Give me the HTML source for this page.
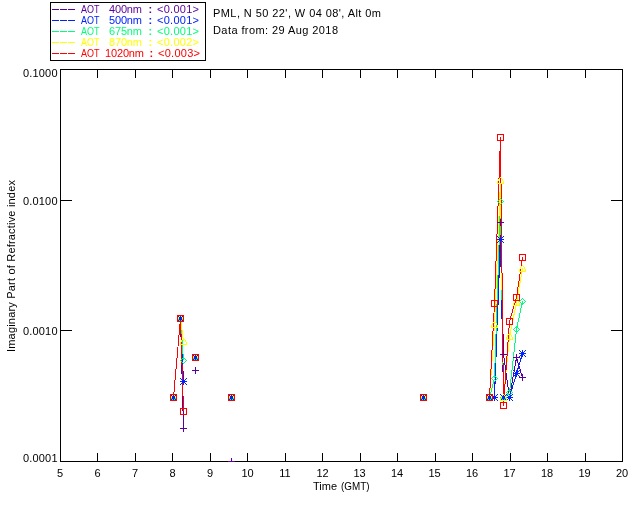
<!DOCTYPE html>
<html><head><meta charset="utf-8"><style>
html,body{margin:0;padding:0;background:#fff;width:640px;height:512px;overflow:hidden}
svg{display:block;font-family:"Liberation Sans", sans-serif;will-change:transform}
</style></head><body>
<svg width="640" height="512" viewBox="0 0 640 512" shape-rendering="crispEdges" stroke-linejoin="bevel">
<defs><clipPath id="pc"><rect x="60" y="69" width="563" height="393"/></clipPath></defs>
<rect x="50" y="2" width="156" height="1" fill="#000"/>
<rect x="50" y="60" width="156" height="1" fill="#000"/>
<rect x="50" y="2" width="1" height="59" fill="#000"/>
<rect x="205" y="2" width="1" height="59" fill="#000"/>
<rect x="52" y="9" width="7" height="1" fill="#58009c"/>
<rect x="60" y="9" width="7" height="1" fill="#58009c"/>
<rect x="68" y="9" width="7" height="1" fill="#58009c"/>
<text x="81" y="13" fill="#58009c" font-size="11" text-anchor="start" textLength="18.5" lengthAdjust="spacingAndGlyphs">AOT</text>
<text x="109" y="13" fill="#58009c" font-size="11" text-anchor="start" textLength="33" lengthAdjust="spacing">400nm</text>
<text x="148.5" y="13" fill="#58009c" font-size="11" text-anchor="start" font-weight="bold">:</text>
<text x="157" y="13" fill="#58009c" font-size="11" text-anchor="start" textLength="42" lengthAdjust="spacing">&lt;0.001&gt;</text>
<rect x="52" y="20" width="7" height="1" fill="#0022ff"/>
<rect x="60" y="20" width="7" height="1" fill="#0022ff"/>
<rect x="68" y="20" width="7" height="1" fill="#0022ff"/>
<text x="81" y="24" fill="#0022ff" font-size="11" text-anchor="start" textLength="18.5" lengthAdjust="spacingAndGlyphs">AOT</text>
<text x="109" y="24" fill="#0022ff" font-size="11" text-anchor="start" textLength="33" lengthAdjust="spacing">500nm</text>
<text x="148.5" y="24" fill="#0022ff" font-size="11" text-anchor="start" font-weight="bold">:</text>
<text x="157" y="24" fill="#0022ff" font-size="11" text-anchor="start" textLength="42" lengthAdjust="spacing">&lt;0.001&gt;</text>
<rect x="52" y="31" width="7" height="1" fill="#00ff7a"/>
<rect x="60" y="31" width="7" height="1" fill="#00ff7a"/>
<rect x="68" y="31" width="7" height="1" fill="#00ff7a"/>
<text x="81" y="35" fill="#00ff7a" font-size="11" text-anchor="start" textLength="18.5" lengthAdjust="spacingAndGlyphs">AOT</text>
<text x="109" y="35" fill="#00ff7a" font-size="11" text-anchor="start" textLength="33" lengthAdjust="spacing">675nm</text>
<text x="148.5" y="35" fill="#00ff7a" font-size="11" text-anchor="start" font-weight="bold">:</text>
<text x="157" y="35" fill="#00ff7a" font-size="11" text-anchor="start" textLength="42" lengthAdjust="spacing">&lt;0.001&gt;</text>
<rect x="52" y="42" width="7" height="1" fill="#ffff00"/>
<rect x="60" y="42" width="7" height="1" fill="#ffff00"/>
<rect x="68" y="42" width="7" height="1" fill="#ffff00"/>
<text x="81" y="46" fill="#ffff00" font-size="11" text-anchor="start" textLength="18.5" lengthAdjust="spacingAndGlyphs">AOT</text>
<text x="109" y="46" fill="#ffff00" font-size="11" text-anchor="start" textLength="33" lengthAdjust="spacing">870nm</text>
<text x="148.5" y="46" fill="#ffff00" font-size="11" text-anchor="start" font-weight="bold">:</text>
<text x="157" y="46" fill="#ffff00" font-size="11" text-anchor="start" textLength="42" lengthAdjust="spacing">&lt;0.002&gt;</text>
<rect x="52" y="53" width="7" height="1" fill="#ff0000"/>
<rect x="60" y="53" width="7" height="1" fill="#ff0000"/>
<rect x="68" y="53" width="7" height="1" fill="#ff0000"/>
<text x="81" y="57" fill="#ff0000" font-size="11" text-anchor="start" textLength="18.5" lengthAdjust="spacingAndGlyphs">AOT</text>
<text x="105" y="57" fill="#ff0000" font-size="11" text-anchor="start" textLength="39" lengthAdjust="spacing">1020nm</text>
<text x="149.5" y="57" fill="#ff0000" font-size="11" text-anchor="start" font-weight="bold">:</text>
<text x="158" y="57" fill="#ff0000" font-size="11" text-anchor="start" textLength="42" lengthAdjust="spacing">&lt;0.003&gt;</text>
<text x="213" y="17" fill="#000" font-size="11" text-anchor="start" textLength="168" lengthAdjust="spacing">PML, N 50 22', W 04 08', Alt 0m</text>
<text x="213" y="34" fill="#000" font-size="11" text-anchor="start" textLength="125" lengthAdjust="spacing">Data from: 29 Aug 2018</text>
<rect x="60" y="69" width="563" height="1" fill="#000"/>
<rect x="60" y="461" width="563" height="1" fill="#000"/>
<rect x="60" y="69" width="1" height="393" fill="#000"/>
<rect x="622" y="69" width="1" height="393" fill="#000"/>
<rect x="97" y="453" width="1" height="9" fill="#000"/>
<rect x="97" y="69" width="1" height="9" fill="#000"/>
<rect x="135" y="453" width="1" height="9" fill="#000"/>
<rect x="135" y="69" width="1" height="9" fill="#000"/>
<rect x="172" y="453" width="1" height="9" fill="#000"/>
<rect x="172" y="69" width="1" height="9" fill="#000"/>
<rect x="210" y="453" width="1" height="9" fill="#000"/>
<rect x="210" y="69" width="1" height="9" fill="#000"/>
<rect x="247" y="453" width="1" height="9" fill="#000"/>
<rect x="247" y="69" width="1" height="9" fill="#000"/>
<rect x="285" y="453" width="1" height="9" fill="#000"/>
<rect x="285" y="69" width="1" height="9" fill="#000"/>
<rect x="322" y="453" width="1" height="9" fill="#000"/>
<rect x="322" y="69" width="1" height="9" fill="#000"/>
<rect x="360" y="453" width="1" height="9" fill="#000"/>
<rect x="360" y="69" width="1" height="9" fill="#000"/>
<rect x="397" y="453" width="1" height="9" fill="#000"/>
<rect x="397" y="69" width="1" height="9" fill="#000"/>
<rect x="435" y="453" width="1" height="9" fill="#000"/>
<rect x="435" y="69" width="1" height="9" fill="#000"/>
<rect x="472" y="453" width="1" height="9" fill="#000"/>
<rect x="472" y="69" width="1" height="9" fill="#000"/>
<rect x="510" y="453" width="1" height="9" fill="#000"/>
<rect x="510" y="69" width="1" height="9" fill="#000"/>
<rect x="547" y="453" width="1" height="9" fill="#000"/>
<rect x="547" y="69" width="1" height="9" fill="#000"/>
<rect x="585" y="453" width="1" height="9" fill="#000"/>
<rect x="585" y="69" width="1" height="9" fill="#000"/>
<rect x="60" y="200" width="12" height="1" fill="#000"/>
<rect x="611" y="200" width="12" height="1" fill="#000"/>
<rect x="60" y="330" width="12" height="1" fill="#000"/>
<rect x="611" y="330" width="12" height="1" fill="#000"/>
<text x="60.0" y="477" fill="#000" font-size="11" text-anchor="middle">5</text>
<text x="97.5" y="477" fill="#000" font-size="11" text-anchor="middle">6</text>
<text x="135.0" y="477" fill="#000" font-size="11" text-anchor="middle">7</text>
<text x="172.5" y="477" fill="#000" font-size="11" text-anchor="middle">8</text>
<text x="210.0" y="477" fill="#000" font-size="11" text-anchor="middle">9</text>
<text x="247.5" y="477" fill="#000" font-size="11" text-anchor="middle">10</text>
<text x="285.0" y="477" fill="#000" font-size="11" text-anchor="middle">11</text>
<text x="322.5" y="477" fill="#000" font-size="11" text-anchor="middle">12</text>
<text x="359.5" y="477" fill="#000" font-size="11" text-anchor="middle">13</text>
<text x="397.0" y="477" fill="#000" font-size="11" text-anchor="middle">14</text>
<text x="434.5" y="477" fill="#000" font-size="11" text-anchor="middle">15</text>
<text x="472.0" y="477" fill="#000" font-size="11" text-anchor="middle">16</text>
<text x="509.5" y="477" fill="#000" font-size="11" text-anchor="middle">17</text>
<text x="547.0" y="477" fill="#000" font-size="11" text-anchor="middle">18</text>
<text x="584.5" y="477" fill="#000" font-size="11" text-anchor="middle">19</text>
<text x="622.0" y="477" fill="#000" font-size="11" text-anchor="middle">20</text>
<text x="57.5" y="77" fill="#000" font-size="11" text-anchor="end" textLength="34.5" lengthAdjust="spacing">0.1000</text>
<text x="57.5" y="205" fill="#000" font-size="11" text-anchor="end" textLength="34.5" lengthAdjust="spacing">0.0100</text>
<text x="57.5" y="335" fill="#000" font-size="11" text-anchor="end" textLength="34.5" lengthAdjust="spacing">0.0010</text>
<text x="57.5" y="462" fill="#000" font-size="11" text-anchor="end" textLength="34.5" lengthAdjust="spacing">0.0001</text>
<text x="313" y="490" fill="#000" font-size="11" text-anchor="start" textLength="24" lengthAdjust="spacing">Time</text>
<text x="341" y="490" fill="#000" font-size="11" text-anchor="start" textLength="28.5" lengthAdjust="spacingAndGlyphs">(GMT)</text>
<g transform="translate(15,352) rotate(-90)">
<text x="0" y="0" fill="#000" font-size="11" text-anchor="start" textLength="172" lengthAdjust="spacing">Imaginary Part of Refractive index</text>
</g>
<g clip-path="url(#pc)">
<path d="M173.5 397.5 L180.5 318.5 L183.5 428.5" stroke="#58009c" fill="none"/>
<path d="M489.5 397.5 L494.5 397.5 L500.5 222.5 L503.5 354.5 L509.5 397.5 L516.5 357.5 L522.5 377.5" stroke="#58009c" fill="none"/>
<path d="M173.5 397.5 L180.5 318.5 L183.5 381.5" stroke="#0022ff" fill="none"/>
<path d="M489.5 397.5 L494.5 397.5 L500.5 239.5 L503.5 397.5 L509.5 397.5 L516.5 373.5 L522.5 353.5" stroke="#0022ff" fill="none"/>
<path d="M173.5 397.5 L180.5 318.5 L183.5 360.5" stroke="#00ff7a" fill="none"/>
<path d="M489.5 397.5 L494.5 378.5 L500.5 201.5 L503.5 397.5 L509.5 392.5 L516.5 329.5 L522.5 301.5" stroke="#00ff7a" fill="none"/>
<path d="M173.5 397.5 L180.5 318.5 L183.5 341.5" stroke="#ffff00" fill="none"/>
<path d="M489.5 397.5 L494.5 324.5 L500.5 180.5 L503.5 397.5 L509.5 336.5 L516.5 302.5 L522.5 268.5" stroke="#ffff00" fill="none"/>
<path d="M173.5 397.5 L180.5 318.5 L183.5 411.5" stroke="#ff0000" fill="none"/>
<path d="M489.5 397.5 L494.5 303.5 L500.5 137.5 L503.5 405.5 L509.5 321.5 L516.5 297.5 L522.5 257.5" stroke="#ff0000" fill="none"/>
<path d="M170 397h1v1h-1zM171 397h1v1h-1zM172 397h1v1h-1zM173 394h1v1h-1zM173 395h1v1h-1zM173 396h1v1h-1zM173 397h1v1h-1zM173 398h1v1h-1zM173 399h1v1h-1zM173 400h1v1h-1zM174 397h1v1h-1zM175 397h1v1h-1zM176 397h1v1h-1zM177 318h1v1h-1zM178 318h1v1h-1zM179 318h1v1h-1zM180 315h1v1h-1zM180 316h1v1h-1zM180 317h1v1h-1zM180 318h1v1h-1zM180 319h1v1h-1zM180 320h1v1h-1zM180 321h1v1h-1zM180 428h1v1h-1zM181 318h1v1h-1zM181 428h1v1h-1zM182 318h1v1h-1zM182 428h1v1h-1zM183 318h1v1h-1zM183 425h1v1h-1zM183 426h1v1h-1zM183 427h1v1h-1zM183 428h1v1h-1zM183 429h1v1h-1zM183 430h1v1h-1zM183 431h1v1h-1zM184 428h1v1h-1zM185 428h1v1h-1zM186 428h1v1h-1zM192 370h1v1h-1zM193 370h1v1h-1zM194 370h1v1h-1zM195 367h1v1h-1zM195 368h1v1h-1zM195 369h1v1h-1zM195 370h1v1h-1zM195 371h1v1h-1zM195 372h1v1h-1zM195 373h1v1h-1zM196 370h1v1h-1zM197 370h1v1h-1zM198 370h1v1h-1zM228 461h1v1h-1zM229 461h1v1h-1zM230 461h1v1h-1zM231 458h1v1h-1zM231 459h1v1h-1zM231 460h1v1h-1zM231 461h1v1h-1zM232 461h1v1h-1zM233 461h1v1h-1zM234 461h1v1h-1zM420 397h1v1h-1zM421 397h1v1h-1zM422 397h1v1h-1zM423 394h1v1h-1zM423 395h1v1h-1zM423 396h1v1h-1zM423 397h1v1h-1zM423 398h1v1h-1zM423 399h1v1h-1zM423 400h1v1h-1zM424 397h1v1h-1zM425 397h1v1h-1zM426 397h1v1h-1zM486 397h1v1h-1zM487 397h1v1h-1zM488 397h1v1h-1zM489 394h1v1h-1zM489 395h1v1h-1zM489 396h1v1h-1zM489 397h1v1h-1zM489 398h1v1h-1zM489 399h1v1h-1zM489 400h1v1h-1zM490 397h1v1h-1zM491 397h1v1h-1zM492 397h1v1h-1zM493 397h1v1h-1zM494 394h1v1h-1zM494 395h1v1h-1zM494 396h1v1h-1zM494 397h1v1h-1zM494 398h1v1h-1zM494 399h1v1h-1zM494 400h1v1h-1zM495 397h1v1h-1zM496 397h1v1h-1zM497 222h1v1h-1zM497 397h1v1h-1zM498 222h1v1h-1zM499 222h1v1h-1zM500 219h1v1h-1zM500 220h1v1h-1zM500 221h1v1h-1zM500 222h1v1h-1zM500 223h1v1h-1zM500 224h1v1h-1zM500 225h1v1h-1zM500 354h1v1h-1zM501 222h1v1h-1zM501 354h1v1h-1zM502 222h1v1h-1zM502 354h1v1h-1zM503 222h1v1h-1zM503 351h1v1h-1zM503 352h1v1h-1zM503 353h1v1h-1zM503 354h1v1h-1zM503 355h1v1h-1zM503 356h1v1h-1zM503 357h1v1h-1zM504 354h1v1h-1zM505 354h1v1h-1zM506 354h1v1h-1zM506 397h1v1h-1zM507 397h1v1h-1zM508 397h1v1h-1zM509 394h1v1h-1zM509 395h1v1h-1zM509 396h1v1h-1zM509 397h1v1h-1zM509 398h1v1h-1zM509 399h1v1h-1zM509 400h1v1h-1zM510 397h1v1h-1zM511 397h1v1h-1zM512 397h1v1h-1zM513 357h1v1h-1zM514 357h1v1h-1zM515 357h1v1h-1zM516 354h1v1h-1zM516 355h1v1h-1zM516 356h1v1h-1zM516 357h1v1h-1zM516 358h1v1h-1zM516 359h1v1h-1zM516 360h1v1h-1zM517 357h1v1h-1zM518 357h1v1h-1zM519 357h1v1h-1zM519 377h1v1h-1zM520 377h1v1h-1zM521 377h1v1h-1zM522 374h1v1h-1zM522 375h1v1h-1zM522 376h1v1h-1zM522 377h1v1h-1zM522 378h1v1h-1zM522 379h1v1h-1zM522 380h1v1h-1zM523 377h1v1h-1zM524 377h1v1h-1zM525 377h1v1h-1z" fill="#58009c"/>
<path d="M170 394h1v1h-1zM170 397h1v1h-1zM170 400h1v1h-1zM171 395h1v1h-1zM171 397h1v1h-1zM171 399h1v1h-1zM172 396h1v1h-1zM172 397h1v1h-1zM172 398h1v1h-1zM173 394h1v1h-1zM173 395h1v1h-1zM173 396h1v1h-1zM173 397h1v1h-1zM173 398h1v1h-1zM173 399h1v1h-1zM173 400h1v1h-1zM174 396h1v1h-1zM174 397h1v1h-1zM174 398h1v1h-1zM175 395h1v1h-1zM175 397h1v1h-1zM175 399h1v1h-1zM176 394h1v1h-1zM176 397h1v1h-1zM176 400h1v1h-1zM177 315h1v1h-1zM177 318h1v1h-1zM177 321h1v1h-1zM178 316h1v1h-1zM178 318h1v1h-1zM178 320h1v1h-1zM179 317h1v1h-1zM179 318h1v1h-1zM179 319h1v1h-1zM180 315h1v1h-1zM180 316h1v1h-1zM180 317h1v1h-1zM180 318h1v1h-1zM180 319h1v1h-1zM180 320h1v1h-1zM180 321h1v1h-1zM180 378h1v1h-1zM180 381h1v1h-1zM180 384h1v1h-1zM181 317h1v1h-1zM181 318h1v1h-1zM181 319h1v1h-1zM181 379h1v1h-1zM181 381h1v1h-1zM181 383h1v1h-1zM182 316h1v1h-1zM182 318h1v1h-1zM182 320h1v1h-1zM182 380h1v1h-1zM182 381h1v1h-1zM182 382h1v1h-1zM183 315h1v1h-1zM183 318h1v1h-1zM183 321h1v1h-1zM183 378h1v1h-1zM183 379h1v1h-1zM183 380h1v1h-1zM183 381h1v1h-1zM183 382h1v1h-1zM183 383h1v1h-1zM183 384h1v1h-1zM184 380h1v1h-1zM184 381h1v1h-1zM184 382h1v1h-1zM185 379h1v1h-1zM185 381h1v1h-1zM185 383h1v1h-1zM186 378h1v1h-1zM186 381h1v1h-1zM186 384h1v1h-1zM192 354h1v1h-1zM192 357h1v1h-1zM192 360h1v1h-1zM193 355h1v1h-1zM193 357h1v1h-1zM193 359h1v1h-1zM194 356h1v1h-1zM194 357h1v1h-1zM194 358h1v1h-1zM195 354h1v1h-1zM195 355h1v1h-1zM195 356h1v1h-1zM195 357h1v1h-1zM195 358h1v1h-1zM195 359h1v1h-1zM195 360h1v1h-1zM196 356h1v1h-1zM196 357h1v1h-1zM196 358h1v1h-1zM197 355h1v1h-1zM197 357h1v1h-1zM197 359h1v1h-1zM198 354h1v1h-1zM198 357h1v1h-1zM198 360h1v1h-1zM228 394h1v1h-1zM228 397h1v1h-1zM228 400h1v1h-1zM229 395h1v1h-1zM229 397h1v1h-1zM229 399h1v1h-1zM230 396h1v1h-1zM230 397h1v1h-1zM230 398h1v1h-1zM231 394h1v1h-1zM231 395h1v1h-1zM231 396h1v1h-1zM231 397h1v1h-1zM231 398h1v1h-1zM231 399h1v1h-1zM231 400h1v1h-1zM232 396h1v1h-1zM232 397h1v1h-1zM232 398h1v1h-1zM233 395h1v1h-1zM233 397h1v1h-1zM233 399h1v1h-1zM234 394h1v1h-1zM234 397h1v1h-1zM234 400h1v1h-1zM420 394h1v1h-1zM420 397h1v1h-1zM420 400h1v1h-1zM421 395h1v1h-1zM421 397h1v1h-1zM421 399h1v1h-1zM422 396h1v1h-1zM422 397h1v1h-1zM422 398h1v1h-1zM423 394h1v1h-1zM423 395h1v1h-1zM423 396h1v1h-1zM423 397h1v1h-1zM423 398h1v1h-1zM423 399h1v1h-1zM423 400h1v1h-1zM424 396h1v1h-1zM424 397h1v1h-1zM424 398h1v1h-1zM425 395h1v1h-1zM425 397h1v1h-1zM425 399h1v1h-1zM426 394h1v1h-1zM426 397h1v1h-1zM426 400h1v1h-1zM486 394h1v1h-1zM486 397h1v1h-1zM486 400h1v1h-1zM487 395h1v1h-1zM487 397h1v1h-1zM487 399h1v1h-1zM488 396h1v1h-1zM488 397h1v1h-1zM488 398h1v1h-1zM489 394h1v1h-1zM489 395h1v1h-1zM489 396h1v1h-1zM489 397h1v1h-1zM489 398h1v1h-1zM489 399h1v1h-1zM489 400h1v1h-1zM490 396h1v1h-1zM490 397h1v1h-1zM490 398h1v1h-1zM491 394h1v1h-1zM491 395h1v1h-1zM491 397h1v1h-1zM491 399h1v1h-1zM491 400h1v1h-1zM492 394h1v1h-1zM492 395h1v1h-1zM492 397h1v1h-1zM492 399h1v1h-1zM492 400h1v1h-1zM493 396h1v1h-1zM493 397h1v1h-1zM493 398h1v1h-1zM494 394h1v1h-1zM494 395h1v1h-1zM494 396h1v1h-1zM494 397h1v1h-1zM494 398h1v1h-1zM494 399h1v1h-1zM494 400h1v1h-1zM495 396h1v1h-1zM495 397h1v1h-1zM495 398h1v1h-1zM496 395h1v1h-1zM496 397h1v1h-1zM496 399h1v1h-1zM497 236h1v1h-1zM497 239h1v1h-1zM497 242h1v1h-1zM497 394h1v1h-1zM497 397h1v1h-1zM497 400h1v1h-1zM498 237h1v1h-1zM498 239h1v1h-1zM498 241h1v1h-1zM499 238h1v1h-1zM499 239h1v1h-1zM499 240h1v1h-1zM500 236h1v1h-1zM500 237h1v1h-1zM500 238h1v1h-1zM500 239h1v1h-1zM500 240h1v1h-1zM500 241h1v1h-1zM500 242h1v1h-1zM500 394h1v1h-1zM500 397h1v1h-1zM500 400h1v1h-1zM501 238h1v1h-1zM501 239h1v1h-1zM501 240h1v1h-1zM501 395h1v1h-1zM501 397h1v1h-1zM501 399h1v1h-1zM502 237h1v1h-1zM502 239h1v1h-1zM502 241h1v1h-1zM502 396h1v1h-1zM502 397h1v1h-1zM502 398h1v1h-1zM503 236h1v1h-1zM503 239h1v1h-1zM503 242h1v1h-1zM503 394h1v1h-1zM503 395h1v1h-1zM503 396h1v1h-1zM503 397h1v1h-1zM503 398h1v1h-1zM503 399h1v1h-1zM503 400h1v1h-1zM504 396h1v1h-1zM504 397h1v1h-1zM504 398h1v1h-1zM505 395h1v1h-1zM505 397h1v1h-1zM505 399h1v1h-1zM506 394h1v1h-1zM506 397h1v1h-1zM506 400h1v1h-1zM507 395h1v1h-1zM507 397h1v1h-1zM507 399h1v1h-1zM508 396h1v1h-1zM508 397h1v1h-1zM508 398h1v1h-1zM509 394h1v1h-1zM509 395h1v1h-1zM509 396h1v1h-1zM509 397h1v1h-1zM509 398h1v1h-1zM509 399h1v1h-1zM509 400h1v1h-1zM510 396h1v1h-1zM510 397h1v1h-1zM510 398h1v1h-1zM511 395h1v1h-1zM511 397h1v1h-1zM511 399h1v1h-1zM512 394h1v1h-1zM512 397h1v1h-1zM512 400h1v1h-1zM513 370h1v1h-1zM513 373h1v1h-1zM513 376h1v1h-1zM514 371h1v1h-1zM514 373h1v1h-1zM514 375h1v1h-1zM515 372h1v1h-1zM515 373h1v1h-1zM515 374h1v1h-1zM516 370h1v1h-1zM516 371h1v1h-1zM516 372h1v1h-1zM516 373h1v1h-1zM516 374h1v1h-1zM516 375h1v1h-1zM516 376h1v1h-1zM517 372h1v1h-1zM517 373h1v1h-1zM517 374h1v1h-1zM518 371h1v1h-1zM518 373h1v1h-1zM518 375h1v1h-1zM519 350h1v1h-1zM519 353h1v1h-1zM519 356h1v1h-1zM519 370h1v1h-1zM519 373h1v1h-1zM519 376h1v1h-1zM520 351h1v1h-1zM520 353h1v1h-1zM520 355h1v1h-1zM521 352h1v1h-1zM521 353h1v1h-1zM521 354h1v1h-1zM522 350h1v1h-1zM522 351h1v1h-1zM522 352h1v1h-1zM522 353h1v1h-1zM522 354h1v1h-1zM522 355h1v1h-1zM522 356h1v1h-1zM523 352h1v1h-1zM523 353h1v1h-1zM523 354h1v1h-1zM524 351h1v1h-1zM524 353h1v1h-1zM524 355h1v1h-1zM525 350h1v1h-1zM525 353h1v1h-1zM525 356h1v1h-1z" fill="#0022ff"/>
<path d="M170 397h1v1h-1zM171 396h1v1h-1zM171 398h1v1h-1zM172 395h1v1h-1zM172 399h1v1h-1zM173 394h1v1h-1zM173 400h1v1h-1zM174 395h1v1h-1zM174 399h1v1h-1zM175 396h1v1h-1zM175 398h1v1h-1zM176 397h1v1h-1zM177 318h1v1h-1zM178 317h1v1h-1zM178 319h1v1h-1zM179 316h1v1h-1zM179 320h1v1h-1zM180 315h1v1h-1zM180 321h1v1h-1zM180 360h1v1h-1zM181 316h1v1h-1zM181 320h1v1h-1zM181 359h1v1h-1zM181 361h1v1h-1zM182 317h1v1h-1zM182 319h1v1h-1zM182 358h1v1h-1zM182 362h1v1h-1zM183 318h1v1h-1zM183 357h1v1h-1zM183 363h1v1h-1zM184 358h1v1h-1zM184 362h1v1h-1zM185 359h1v1h-1zM185 361h1v1h-1zM186 360h1v1h-1zM192 357h1v1h-1zM193 356h1v1h-1zM193 358h1v1h-1zM194 355h1v1h-1zM194 359h1v1h-1zM195 354h1v1h-1zM195 360h1v1h-1zM196 355h1v1h-1zM196 359h1v1h-1zM197 356h1v1h-1zM197 358h1v1h-1zM198 357h1v1h-1zM228 397h1v1h-1zM229 396h1v1h-1zM229 398h1v1h-1zM230 395h1v1h-1zM230 399h1v1h-1zM231 394h1v1h-1zM231 400h1v1h-1zM232 395h1v1h-1zM232 399h1v1h-1zM233 396h1v1h-1zM233 398h1v1h-1zM234 397h1v1h-1zM420 397h1v1h-1zM421 396h1v1h-1zM421 398h1v1h-1zM422 395h1v1h-1zM422 399h1v1h-1zM423 394h1v1h-1zM423 400h1v1h-1zM424 395h1v1h-1zM424 399h1v1h-1zM425 396h1v1h-1zM425 398h1v1h-1zM426 397h1v1h-1zM486 397h1v1h-1zM487 396h1v1h-1zM487 398h1v1h-1zM488 395h1v1h-1zM488 399h1v1h-1zM489 394h1v1h-1zM489 400h1v1h-1zM490 395h1v1h-1zM490 399h1v1h-1zM491 378h1v1h-1zM491 396h1v1h-1zM491 398h1v1h-1zM492 377h1v1h-1zM492 379h1v1h-1zM492 397h1v1h-1zM493 376h1v1h-1zM493 380h1v1h-1zM494 375h1v1h-1zM494 381h1v1h-1zM495 376h1v1h-1zM495 380h1v1h-1zM496 377h1v1h-1zM496 379h1v1h-1zM497 201h1v1h-1zM497 378h1v1h-1zM498 200h1v1h-1zM498 202h1v1h-1zM499 199h1v1h-1zM499 203h1v1h-1zM500 198h1v1h-1zM500 204h1v1h-1zM500 397h1v1h-1zM501 199h1v1h-1zM501 203h1v1h-1zM501 396h1v1h-1zM501 398h1v1h-1zM502 200h1v1h-1zM502 202h1v1h-1zM502 395h1v1h-1zM502 399h1v1h-1zM503 201h1v1h-1zM503 394h1v1h-1zM503 400h1v1h-1zM504 395h1v1h-1zM504 399h1v1h-1zM505 396h1v1h-1zM505 398h1v1h-1zM506 392h1v1h-1zM506 397h1v1h-1zM507 391h1v1h-1zM507 393h1v1h-1zM508 390h1v1h-1zM508 394h1v1h-1zM509 389h1v1h-1zM509 395h1v1h-1zM510 390h1v1h-1zM510 394h1v1h-1zM511 391h1v1h-1zM511 393h1v1h-1zM512 392h1v1h-1zM513 329h1v1h-1zM514 328h1v1h-1zM514 330h1v1h-1zM515 327h1v1h-1zM515 331h1v1h-1zM516 326h1v1h-1zM516 332h1v1h-1zM517 327h1v1h-1zM517 331h1v1h-1zM518 328h1v1h-1zM518 330h1v1h-1zM519 301h1v1h-1zM519 329h1v1h-1zM520 300h1v1h-1zM520 302h1v1h-1zM521 299h1v1h-1zM521 303h1v1h-1zM522 298h1v1h-1zM522 304h1v1h-1zM523 299h1v1h-1zM523 303h1v1h-1zM524 300h1v1h-1zM524 302h1v1h-1zM525 301h1v1h-1z" fill="#00ff7a"/>
<path d="M170 398h1v1h-1zM170 399h1v1h-1zM170 400h1v1h-1zM171 396h1v1h-1zM171 397h1v1h-1zM171 400h1v1h-1zM172 395h1v1h-1zM172 400h1v1h-1zM173 394h1v1h-1zM173 400h1v1h-1zM174 395h1v1h-1zM174 400h1v1h-1zM175 396h1v1h-1zM175 397h1v1h-1zM175 400h1v1h-1zM176 398h1v1h-1zM176 399h1v1h-1zM176 400h1v1h-1zM177 319h1v1h-1zM177 320h1v1h-1zM177 321h1v1h-1zM178 317h1v1h-1zM178 318h1v1h-1zM178 321h1v1h-1zM179 316h1v1h-1zM179 321h1v1h-1zM180 315h1v1h-1zM180 321h1v1h-1zM180 342h1v1h-1zM180 343h1v1h-1zM180 344h1v1h-1zM181 316h1v1h-1zM181 321h1v1h-1zM181 340h1v1h-1zM181 341h1v1h-1zM181 344h1v1h-1zM182 317h1v1h-1zM182 318h1v1h-1zM182 321h1v1h-1zM182 339h1v1h-1zM182 344h1v1h-1zM183 319h1v1h-1zM183 320h1v1h-1zM183 321h1v1h-1zM183 338h1v1h-1zM183 344h1v1h-1zM184 339h1v1h-1zM184 344h1v1h-1zM185 340h1v1h-1zM185 341h1v1h-1zM185 344h1v1h-1zM186 342h1v1h-1zM186 343h1v1h-1zM186 344h1v1h-1zM192 358h1v1h-1zM192 359h1v1h-1zM192 360h1v1h-1zM193 356h1v1h-1zM193 357h1v1h-1zM193 360h1v1h-1zM194 355h1v1h-1zM194 360h1v1h-1zM195 354h1v1h-1zM195 360h1v1h-1zM196 355h1v1h-1zM196 360h1v1h-1zM197 356h1v1h-1zM197 357h1v1h-1zM197 360h1v1h-1zM198 358h1v1h-1zM198 359h1v1h-1zM198 360h1v1h-1zM228 398h1v1h-1zM228 399h1v1h-1zM228 400h1v1h-1zM229 396h1v1h-1zM229 397h1v1h-1zM229 400h1v1h-1zM230 395h1v1h-1zM230 400h1v1h-1zM231 394h1v1h-1zM231 400h1v1h-1zM232 395h1v1h-1zM232 400h1v1h-1zM233 396h1v1h-1zM233 397h1v1h-1zM233 400h1v1h-1zM234 398h1v1h-1zM234 399h1v1h-1zM234 400h1v1h-1zM420 398h1v1h-1zM420 399h1v1h-1zM420 400h1v1h-1zM421 396h1v1h-1zM421 397h1v1h-1zM421 400h1v1h-1zM422 395h1v1h-1zM422 400h1v1h-1zM423 394h1v1h-1zM423 400h1v1h-1zM424 395h1v1h-1zM424 400h1v1h-1zM425 396h1v1h-1zM425 397h1v1h-1zM425 400h1v1h-1zM426 398h1v1h-1zM426 399h1v1h-1zM426 400h1v1h-1zM486 398h1v1h-1zM486 399h1v1h-1zM486 400h1v1h-1zM487 396h1v1h-1zM487 397h1v1h-1zM487 400h1v1h-1zM488 395h1v1h-1zM488 400h1v1h-1zM489 394h1v1h-1zM489 400h1v1h-1zM490 395h1v1h-1zM490 400h1v1h-1zM491 325h1v1h-1zM491 326h1v1h-1zM491 327h1v1h-1zM491 396h1v1h-1zM491 397h1v1h-1zM491 400h1v1h-1zM492 323h1v1h-1zM492 324h1v1h-1zM492 327h1v1h-1zM492 398h1v1h-1zM492 399h1v1h-1zM492 400h1v1h-1zM493 322h1v1h-1zM493 327h1v1h-1zM494 321h1v1h-1zM494 327h1v1h-1zM495 322h1v1h-1zM495 327h1v1h-1zM496 323h1v1h-1zM496 324h1v1h-1zM496 327h1v1h-1zM497 181h1v1h-1zM497 182h1v1h-1zM497 183h1v1h-1zM497 325h1v1h-1zM497 326h1v1h-1zM497 327h1v1h-1zM498 179h1v1h-1zM498 180h1v1h-1zM498 183h1v1h-1zM499 178h1v1h-1zM499 183h1v1h-1zM500 177h1v1h-1zM500 183h1v1h-1zM500 398h1v1h-1zM500 399h1v1h-1zM500 400h1v1h-1zM501 178h1v1h-1zM501 183h1v1h-1zM501 396h1v1h-1zM501 397h1v1h-1zM501 400h1v1h-1zM502 179h1v1h-1zM502 180h1v1h-1zM502 183h1v1h-1zM502 395h1v1h-1zM502 400h1v1h-1zM503 181h1v1h-1zM503 182h1v1h-1zM503 183h1v1h-1zM503 394h1v1h-1zM503 400h1v1h-1zM504 395h1v1h-1zM504 400h1v1h-1zM505 396h1v1h-1zM505 397h1v1h-1zM505 400h1v1h-1zM506 337h1v1h-1zM506 338h1v1h-1zM506 339h1v1h-1zM506 398h1v1h-1zM506 399h1v1h-1zM506 400h1v1h-1zM507 335h1v1h-1zM507 336h1v1h-1zM507 339h1v1h-1zM508 334h1v1h-1zM508 339h1v1h-1zM509 333h1v1h-1zM509 339h1v1h-1zM510 334h1v1h-1zM510 339h1v1h-1zM511 335h1v1h-1zM511 336h1v1h-1zM511 339h1v1h-1zM512 337h1v1h-1zM512 338h1v1h-1zM512 339h1v1h-1zM513 303h1v1h-1zM513 304h1v1h-1zM513 305h1v1h-1zM514 301h1v1h-1zM514 302h1v1h-1zM514 305h1v1h-1zM515 300h1v1h-1zM515 305h1v1h-1zM516 299h1v1h-1zM516 305h1v1h-1zM517 300h1v1h-1zM517 305h1v1h-1zM518 301h1v1h-1zM518 302h1v1h-1zM518 305h1v1h-1zM519 269h1v1h-1zM519 270h1v1h-1zM519 271h1v1h-1zM519 303h1v1h-1zM519 304h1v1h-1zM519 305h1v1h-1zM520 267h1v1h-1zM520 268h1v1h-1zM520 271h1v1h-1zM521 266h1v1h-1zM521 271h1v1h-1zM522 265h1v1h-1zM522 271h1v1h-1zM523 266h1v1h-1zM523 271h1v1h-1zM524 267h1v1h-1zM524 268h1v1h-1zM524 271h1v1h-1zM525 269h1v1h-1zM525 270h1v1h-1zM525 271h1v1h-1z" fill="#ffff00"/>
<path d="M170 394h1v1h-1zM170 395h1v1h-1zM170 396h1v1h-1zM170 397h1v1h-1zM170 398h1v1h-1zM170 399h1v1h-1zM170 400h1v1h-1zM171 394h1v1h-1zM171 400h1v1h-1zM172 394h1v1h-1zM172 400h1v1h-1zM173 394h1v1h-1zM173 400h1v1h-1zM174 394h1v1h-1zM174 400h1v1h-1zM175 394h1v1h-1zM175 400h1v1h-1zM176 394h1v1h-1zM176 395h1v1h-1zM176 396h1v1h-1zM176 397h1v1h-1zM176 398h1v1h-1zM176 399h1v1h-1zM176 400h1v1h-1zM177 315h1v1h-1zM177 316h1v1h-1zM177 317h1v1h-1zM177 318h1v1h-1zM177 319h1v1h-1zM177 320h1v1h-1zM177 321h1v1h-1zM178 315h1v1h-1zM178 321h1v1h-1zM179 315h1v1h-1zM179 321h1v1h-1zM180 315h1v1h-1zM180 321h1v1h-1zM180 408h1v1h-1zM180 409h1v1h-1zM180 410h1v1h-1zM180 411h1v1h-1zM180 412h1v1h-1zM180 413h1v1h-1zM180 414h1v1h-1zM181 315h1v1h-1zM181 321h1v1h-1zM181 408h1v1h-1zM181 414h1v1h-1zM182 315h1v1h-1zM182 321h1v1h-1zM182 408h1v1h-1zM182 414h1v1h-1zM183 315h1v1h-1zM183 316h1v1h-1zM183 317h1v1h-1zM183 318h1v1h-1zM183 319h1v1h-1zM183 320h1v1h-1zM183 321h1v1h-1zM183 408h1v1h-1zM183 414h1v1h-1zM184 408h1v1h-1zM184 414h1v1h-1zM185 408h1v1h-1zM185 414h1v1h-1zM186 408h1v1h-1zM186 409h1v1h-1zM186 410h1v1h-1zM186 411h1v1h-1zM186 412h1v1h-1zM186 413h1v1h-1zM186 414h1v1h-1zM192 354h1v1h-1zM192 355h1v1h-1zM192 356h1v1h-1zM192 357h1v1h-1zM192 358h1v1h-1zM192 359h1v1h-1zM192 360h1v1h-1zM193 354h1v1h-1zM193 360h1v1h-1zM194 354h1v1h-1zM194 360h1v1h-1zM195 354h1v1h-1zM195 360h1v1h-1zM196 354h1v1h-1zM196 360h1v1h-1zM197 354h1v1h-1zM197 360h1v1h-1zM198 354h1v1h-1zM198 355h1v1h-1zM198 356h1v1h-1zM198 357h1v1h-1zM198 358h1v1h-1zM198 359h1v1h-1zM198 360h1v1h-1zM228 394h1v1h-1zM228 395h1v1h-1zM228 396h1v1h-1zM228 397h1v1h-1zM228 398h1v1h-1zM228 399h1v1h-1zM228 400h1v1h-1zM229 394h1v1h-1zM229 400h1v1h-1zM230 394h1v1h-1zM230 400h1v1h-1zM231 394h1v1h-1zM231 400h1v1h-1zM232 394h1v1h-1zM232 400h1v1h-1zM233 394h1v1h-1zM233 400h1v1h-1zM234 394h1v1h-1zM234 395h1v1h-1zM234 396h1v1h-1zM234 397h1v1h-1zM234 398h1v1h-1zM234 399h1v1h-1zM234 400h1v1h-1zM420 394h1v1h-1zM420 395h1v1h-1zM420 396h1v1h-1zM420 397h1v1h-1zM420 398h1v1h-1zM420 399h1v1h-1zM420 400h1v1h-1zM421 394h1v1h-1zM421 400h1v1h-1zM422 394h1v1h-1zM422 400h1v1h-1zM423 394h1v1h-1zM423 400h1v1h-1zM424 394h1v1h-1zM424 400h1v1h-1zM425 394h1v1h-1zM425 400h1v1h-1zM426 394h1v1h-1zM426 395h1v1h-1zM426 396h1v1h-1zM426 397h1v1h-1zM426 398h1v1h-1zM426 399h1v1h-1zM426 400h1v1h-1zM486 394h1v1h-1zM486 395h1v1h-1zM486 396h1v1h-1zM486 397h1v1h-1zM486 398h1v1h-1zM486 399h1v1h-1zM486 400h1v1h-1zM487 394h1v1h-1zM487 400h1v1h-1zM488 394h1v1h-1zM488 400h1v1h-1zM489 394h1v1h-1zM489 400h1v1h-1zM490 394h1v1h-1zM490 400h1v1h-1zM491 300h1v1h-1zM491 301h1v1h-1zM491 302h1v1h-1zM491 303h1v1h-1zM491 304h1v1h-1zM491 305h1v1h-1zM491 306h1v1h-1zM491 394h1v1h-1zM491 400h1v1h-1zM492 300h1v1h-1zM492 306h1v1h-1zM492 394h1v1h-1zM492 395h1v1h-1zM492 396h1v1h-1zM492 397h1v1h-1zM492 398h1v1h-1zM492 399h1v1h-1zM492 400h1v1h-1zM493 300h1v1h-1zM493 306h1v1h-1zM494 300h1v1h-1zM494 306h1v1h-1zM495 300h1v1h-1zM495 306h1v1h-1zM496 300h1v1h-1zM496 306h1v1h-1zM497 134h1v1h-1zM497 135h1v1h-1zM497 136h1v1h-1zM497 137h1v1h-1zM497 138h1v1h-1zM497 139h1v1h-1zM497 140h1v1h-1zM497 300h1v1h-1zM497 301h1v1h-1zM497 302h1v1h-1zM497 303h1v1h-1zM497 304h1v1h-1zM497 305h1v1h-1zM497 306h1v1h-1zM498 134h1v1h-1zM498 140h1v1h-1zM499 134h1v1h-1zM499 140h1v1h-1zM500 134h1v1h-1zM500 140h1v1h-1zM500 402h1v1h-1zM500 403h1v1h-1zM500 404h1v1h-1zM500 405h1v1h-1zM500 406h1v1h-1zM500 407h1v1h-1zM500 408h1v1h-1zM501 134h1v1h-1zM501 140h1v1h-1zM501 402h1v1h-1zM501 408h1v1h-1zM502 134h1v1h-1zM502 140h1v1h-1zM502 402h1v1h-1zM502 408h1v1h-1zM503 134h1v1h-1zM503 135h1v1h-1zM503 136h1v1h-1zM503 137h1v1h-1zM503 138h1v1h-1zM503 139h1v1h-1zM503 140h1v1h-1zM503 402h1v1h-1zM503 408h1v1h-1zM504 402h1v1h-1zM504 408h1v1h-1zM505 402h1v1h-1zM505 408h1v1h-1zM506 318h1v1h-1zM506 319h1v1h-1zM506 320h1v1h-1zM506 321h1v1h-1zM506 322h1v1h-1zM506 323h1v1h-1zM506 324h1v1h-1zM506 402h1v1h-1zM506 403h1v1h-1zM506 404h1v1h-1zM506 405h1v1h-1zM506 406h1v1h-1zM506 407h1v1h-1zM506 408h1v1h-1zM507 318h1v1h-1zM507 324h1v1h-1zM508 318h1v1h-1zM508 324h1v1h-1zM509 318h1v1h-1zM509 324h1v1h-1zM510 318h1v1h-1zM510 324h1v1h-1zM511 318h1v1h-1zM511 324h1v1h-1zM512 318h1v1h-1zM512 319h1v1h-1zM512 320h1v1h-1zM512 321h1v1h-1zM512 322h1v1h-1zM512 323h1v1h-1zM512 324h1v1h-1zM513 294h1v1h-1zM513 295h1v1h-1zM513 296h1v1h-1zM513 297h1v1h-1zM513 298h1v1h-1zM513 299h1v1h-1zM513 300h1v1h-1zM514 294h1v1h-1zM514 300h1v1h-1zM515 294h1v1h-1zM515 300h1v1h-1zM516 294h1v1h-1zM516 300h1v1h-1zM517 294h1v1h-1zM517 300h1v1h-1zM518 294h1v1h-1zM518 300h1v1h-1zM519 254h1v1h-1zM519 255h1v1h-1zM519 256h1v1h-1zM519 257h1v1h-1zM519 258h1v1h-1zM519 259h1v1h-1zM519 260h1v1h-1zM519 294h1v1h-1zM519 295h1v1h-1zM519 296h1v1h-1zM519 297h1v1h-1zM519 298h1v1h-1zM519 299h1v1h-1zM519 300h1v1h-1zM520 254h1v1h-1zM520 260h1v1h-1zM521 254h1v1h-1zM521 260h1v1h-1zM522 254h1v1h-1zM522 260h1v1h-1zM523 254h1v1h-1zM523 260h1v1h-1zM524 254h1v1h-1zM524 260h1v1h-1zM525 254h1v1h-1zM525 255h1v1h-1zM525 256h1v1h-1zM525 257h1v1h-1zM525 258h1v1h-1zM525 259h1v1h-1zM525 260h1v1h-1z" fill="#ff0000"/>
</g>
</svg></body></html>
